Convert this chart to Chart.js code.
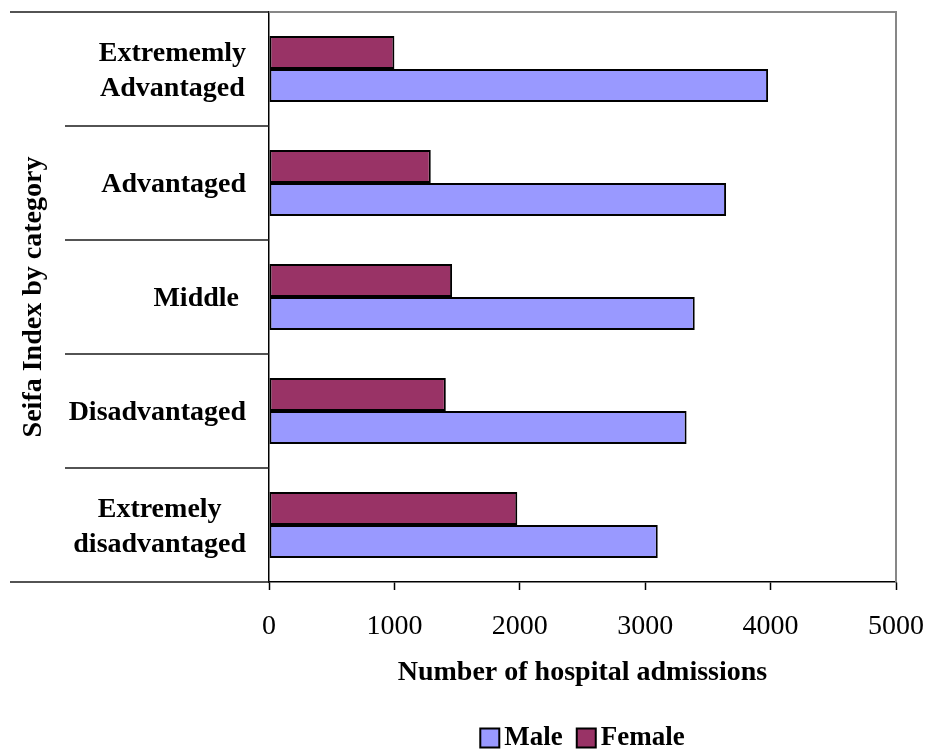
<!DOCTYPE html>
<html>
<head>
<meta charset="utf-8">
<title>Hospital admissions by Seifa Index category</title>
<script src="https://cdn.jsdelivr.net/npm/chart.js@4.4.1/dist/chart.umd.min.js"></script>
<style>
  html, body { margin: 0; padding: 0; background: #ffffff; }
  #wrap { position: relative; width: 925px; height: 751px; }
</style>
</head>
<body>
<div id="wrap"><canvas id="chart" width="925" height="751"></canvas></div>
<script>
// Seifa Index categories, top to bottom (multi-line labels as arrays)
const categories = [
  ["Extrememly", "Advantaged"],
  "Advantaged",
  "Middle ",
  "Disadvantaged",
  ["Extremely", "disadvantaged"]
];

// Number of hospital admissions per category
const femaleAdmissions = [1000, 1290, 1460, 1410, 1980];
const maleAdmissions   = [3980, 3645, 3395, 3330, 3100];

// Value-axis ticks
const xTicks = [0, 1000, 2000, 3000, 4000, 5000];

const axisTitleX = "Number of hospital admissions";
const axisTitleY = "Seifa Index by category";

const SERIF = "'Liberation Serif', 'Times New Roman', serif";
const MALE_COLOR = "#9999FF";
const FEMALE_COLOR = "#993366";

// Plot frame, category separators, category labels and the legend
const decorations = {
  id: "decorations",
  afterDraw(chart) {
    const { ctx, chartArea: a, scales: { y } } = chart;
    ctx.save();

    // grey top and right edges of the plot area
    ctx.strokeStyle = "#878787";
    ctx.lineWidth = 2;
    ctx.beginPath();
    ctx.moveTo(a.left, a.top);
    ctx.lineTo(a.right, a.top);
    ctx.lineTo(a.right, a.bottom);
    ctx.stroke();

    // separators between categories, reaching into the label area
    const n = categories.length;
    ctx.strokeStyle = "#1a1a1a";
    ctx.lineWidth = 1.5;
    for (let i = 0; i <= n; i++) {
      const yy = y.getPixelForValue(i - 0.5);
      const x0 = (i === 0 || i === n) ? 10 : 65;
      ctx.beginPath();
      ctx.moveTo(x0, yy);
      ctx.lineTo(a.left, yy);
      ctx.stroke();
    }

    // category labels: block right-aligned, lines centred within the block
    ctx.fillStyle = "#000";
    ctx.font = "bold 28px " + SERIF;
    ctx.textAlign = "center";
    ctx.textBaseline = "middle";
    const lineH = 35;
    categories.forEach((lab, i) => {
      const lines = Array.isArray(lab) ? lab : [lab];
      const w = Math.max(...lines.map(l => ctx.measureText(l).width));
      const cx = a.left - 23 - w / 2;
      const cy = y.getPixelForValue(i) + 2;
      lines.forEach((l, j) => {
        ctx.fillText(l, cx, cy + (j - (lines.length - 1) / 2) * lineH);
      });
    });

    // legend (Male first), centred under the plot area
    const items = chart.data.datasets.slice().reverse();
    ctx.font = "bold 27px " + SERIF;
    ctx.textAlign = "left";
    const box = 19, gapText = 5, gapItem = 14;
    const widths = items.map(d => box + gapText + ctx.measureText(d.label).width);
    const total = widths.reduce((s, v) => s + v, 0) + gapItem * (items.length - 1);
    let x = (a.left + a.right) / 2 - total / 2;
    const ly = 738;
    items.forEach((d, k) => {
      ctx.fillStyle = d.backgroundColor;
      ctx.fillRect(x, ly - box / 2, box, box);
      ctx.strokeStyle = "#000";
      ctx.lineWidth = 2;
      ctx.strokeRect(x, ly - box / 2, box, box);
      ctx.fillStyle = "#000";
      ctx.fillText(d.label, x + box + gapText, ly);
      x += widths[k] + gapItem;
    });

    ctx.restore();
  }
};

new Chart(document.getElementById("chart"), {
  type: "bar",
  data: {
    labels: categories,
    datasets: [
      {
        label: "Female",
        data: femaleAdmissions,
        backgroundColor: FEMALE_COLOR,
        borderColor: "#000",
        borderWidth: 2,
        borderSkipped: false
      },
      {
        label: "Male",
        data: maleAdmissions,
        backgroundColor: MALE_COLOR,
        borderColor: "#000",
        borderWidth: 2,
        borderSkipped: false
      }
    ]
  },
  options: {
    indexAxis: "y",
    responsive: false,
    animation: false,
    devicePixelRatio: 1,
    categoryPercentage: 0.58,
    barPercentage: 1.0,
    layout: { padding: { top: 12, right: 29, bottom: 41, left: 0 } },
    plugins: {
      legend: { display: false },
      tooltip: { enabled: false }
    },
    scales: {
      x: {
        type: "linear",
        min: xTicks[0],
        max: xTicks[xTicks.length - 1],
        afterBuildTicks(scale) {
          scale.ticks = xTicks.map(v => ({ value: v }));
        },
        afterFit(scale) {
          scale.height = 128;
          scale.paddingLeft = 0;
          scale.paddingRight = 0;
        },
        grid: {
          drawOnChartArea: false,
          drawTicks: true,
          tickLength: 8,
          tickColor: "#000",
          tickWidth: 1.5
        },
        border: { display: true, color: "#000", width: 1.5 },
        ticks: {
          color: "#000",
          padding: 20,
          maxRotation: 0,
          callback: v => String(v),
          font: { family: SERIF, size: 28 }
        },
        title: {
          display: true,
          text: axisTitleX,
          color: "#000",
          font: { family: SERIF, size: 28, weight: "bold" },
          padding: { top: 0, bottom: 20 }
        }
      },
      y: {
        type: "category",
        afterFit(scale) { scale.width = 269; },
        grid: { display: false },
        border: { display: true, color: "#000", width: 1.5 },
        ticks: { display: false },
        title: {
          display: true,
          text: axisTitleY,
          color: "#000",
          font: { family: SERIF, size: 28, weight: "bold" },
          padding: { top: 17, bottom: 0 }
        }
      }
    }
  },
  plugins: [decorations]
});
</script>
</body>
</html>
